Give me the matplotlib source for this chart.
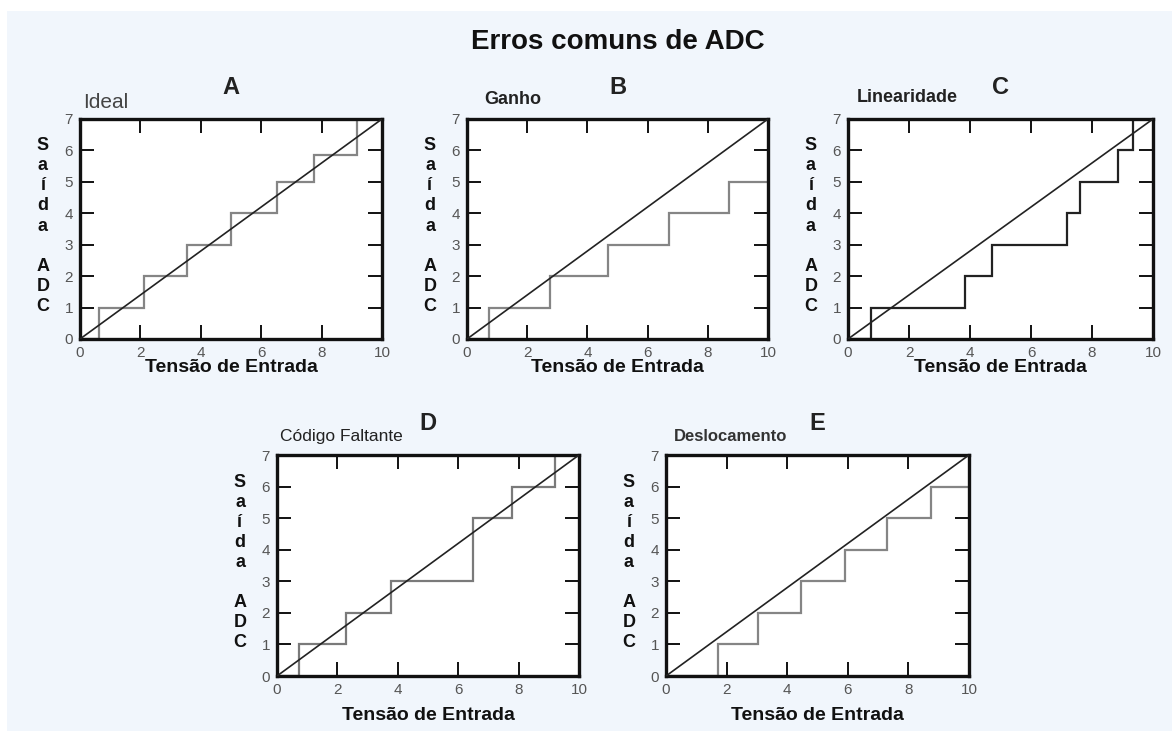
"""Erros comuns de ADC - five panels of ADC transfer functions."""

import matplotlib
matplotlib.use("Agg")
import matplotlib.pyplot as plt
from matplotlib.patches import Rectangle

W, H = 1172, 731

# step edges (input voltage) and output codes for each panel
ideal_edges = [0, 0.64, 2.12, 3.54, 5.0, 6.52, 7.76, 9.17, 10]
ideal_codes = [0, 1, 2, 3, 4, 5, 5.85, 7]

gain_edges = [0, 0.72, 2.76, 4.68, 6.71, 8.69, 10]
gain_codes = [0, 1, 2, 3, 4, 5]

lin_edges = [0, 0.74, 3.83, 4.71, 7.17, 7.61, 8.84, 9.34, 10]
lin_codes = [0, 1, 2, 3, 4, 5, 6, 7]

miss_edges = [0, 0.74, 2.28, 3.79, 6.5, 7.79, 9.21, 10]
miss_codes = [0, 1, 2, 3, 5, 6, 7]

off_edges = [0, 1.70, 3.04, 4.47, 5.92, 7.30, 8.73, 10]
off_codes = [0, 1, 2, 3, 4, 5, 6]

ideal_line_x = [0, 10]
ideal_line_y = [0, 7]

letters = ["A", "B", "C", "D", "E"]
subtitles = ["Ideal", "Ganho", "Linearidade", "Código Faltante", "Deslocamento"]

plt.rcParams["font.family"] = ["Liberation Sans", "DejaVu Sans"]


def fx(px):
    return px / W


def fy(py):
    return 1 - py / H


fig = plt.figure(figsize=(W / 100, H / 100), dpi=100)
fig.patch.set_facecolor("white")
fig.patches.append(Rectangle((fx(7), -0.01), 1, fy(11) + 0.01, transform=fig.transFigure,
                             facecolor="#f1f6fc", edgecolor="none", zorder=-10))

# panel boxes in pixels: left, top, right, bottom
boxes = [(80, 119, 382, 339), (467, 119, 768, 339), (848, 119, 1153, 339),
         (277, 455, 579, 676), (666, 455, 969, 676)]
series = [(ideal_edges, ideal_codes, "#858585"), (gain_edges, gain_codes, "#858585"),
          (lin_edges, lin_codes, "#222222"), (miss_edges, miss_codes, "#7a7a7a"),
          (off_edges, off_codes, "#858585")]
# subtitle placement: x offset from axes left, y centre, size, weight, colour
sub_style = [(3, 103, 15, "normal", "#444444"), (17, 99, 13, "bold", "#222222"),
             (9, 98, 13, "bold", "#222222"), (3, 437, 12.5, "normal", "#222222"),
             (8, 436, 12, "bold", "#333333")]

fig.text(fx(618), fy(42), "Erros comuns de ADC", ha="center", va="center",
         fontsize=20, fontweight="bold", color="#111111")

for i, (l, t, r, b) in enumerate(boxes):
    ax = fig.add_axes([fx(l), fy(b), fx(r - l), (b - t) / H])
    ax.set_facecolor("white")
    edges, codes, col = series[i]
    ax.plot(ideal_line_x, ideal_line_y, color="#222222", lw=1.2, zorder=3)
    ax.stairs(codes, edges, baseline=None, color=col, lw=1.6, zorder=2)
    ax.set_xlim(0, 10)
    ax.set_ylim(0, 7)
    ax.set_xticks(range(0, 11, 2))
    ax.set_yticks(range(0, 8))
    ax.tick_params(direction="in", top=True, right=True, length=10, width=1.4,
                   color="#111111", labelcolor="#555555", labelsize=11, pad=5)
    for s in ax.spines.values():
        s.set_linewidth(2.4)
        s.set_color("#111111")
    ax.set_xlabel("Tensão de Entrada", fontsize=14, fontweight="bold",
                  color="#111111", labelpad=-1 if i < 3 else 7)

    fig.text(fx((l + r) / 2), fy(t - 31), letters[i], ha="center", va="center",
             fontsize=17, fontweight="bold", color="#222222")
    dx, sy, fs, fw, fc = sub_style[i]
    fig.text(fx(l + dx), fy(sy), subtitles[i], ha="left", va="center",
             fontsize=fs, fontweight=fw, color=fc)
    fig.text(fx(l - 37), fy((t + b) / 2 - 3), "S\na\ní\nd\na\n \nA\nD\nC",
             ha="center", va="center", fontsize=13, fontweight="bold",
             linespacing=1.24, color="#111111")

fig.savefig("out.png", dpi=100)
